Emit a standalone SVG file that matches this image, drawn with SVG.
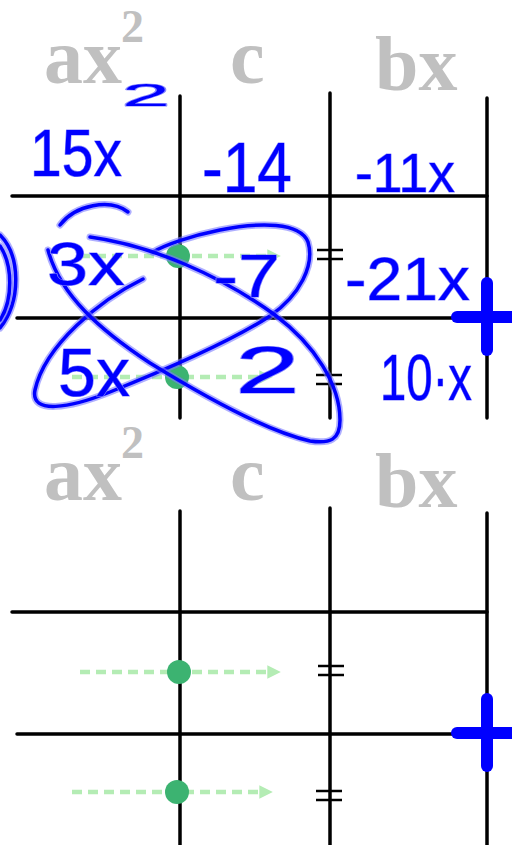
<svg xmlns="http://www.w3.org/2000/svg" xmlns:xlink="http://www.w3.org/1999/xlink" width="512" height="845" viewBox="0 0 512 845">
<style>
.lbl{font-family:"Liberation Serif",serif;font-weight:bold;fill:#c0c0c0}
.grid{stroke:#000;stroke-width:3.5;stroke-linecap:round;fill:none}
.eq{stroke:#000;stroke-width:2.5;fill:none}
.dash{stroke:#b4ecb4;stroke-width:4.5;stroke-dasharray:10 6;fill:none}
.dot{fill:#3cb371}
.plus{stroke:#0000ff;stroke-width:12;stroke-linecap:round;fill:none}
.halo{stroke:#7a7aff;stroke-width:7;stroke-opacity:0.6;fill:none;stroke-linecap:round;stroke-linejoin:round}
.ink{stroke:#0000ff;stroke-width:3.5;fill:none;stroke-linecap:round;stroke-linejoin:round}
.hw{font-family:"Liberation Sans",sans-serif;fill:#0000ff;stroke:#8a8aff;stroke-width:1.2;paint-order:stroke;stroke-linejoin:round}
</style>
<defs>
<marker id="ah" viewBox="0 0 10 10" refX="2" refY="5" markerWidth="3" markerHeight="3" orient="auto" markerUnits="strokeWidth">
<path d="M0,0 L10,5 L0,10 Z" fill="#b4ecb4"/>
</marker>
<path id="loop1" d="M143,279 C100,300 45,345 35,390 C30,415 70,408 110,392 C160,372 230,342 270,316 C300,295 315,265 308,242 C300,222 260,222 220,230 C190,236 165,245 153,252"/>
<path id="loop2" d="M90,237 C150,245 220,275 275,315 C315,345 340,385 340,420 C340,440 330,444 310,441 C270,432 210,400 150,363 C100,330 60,295 48,250"/>
<path id="arc3" d="M60,225 C75,205 110,198 128,212"/>
<path id="paren1" d="M0,235 C20,255 22,300 0,328"/>
<path id="paren2" d="M0,246 C13,265 13,300 0,320"/>
</defs>

<g id="top-panel">
<g id="top-labels">
<text class="lbl" x="44" y="83" font-size="78">ax</text>
<text class="lbl" x="121" y="42" font-size="46">2</text>
<text class="lbl" x="230" y="83" font-size="78">c</text>
<text class="lbl" x="375" y="90" font-size="78">bx</text>
</g>
<g id="top-grid">
<line class="grid" x1="180" y1="96" x2="180" y2="418"/>
<line class="grid" x1="330" y1="93" x2="330" y2="418"/>
<line class="grid" x1="487" y1="98" x2="487" y2="418"/>
<line class="grid" x1="12" y1="196" x2="487" y2="196"/>
<line class="grid" x1="17" y1="318" x2="487" y2="318"/>
</g>
<g id="top-arrows">
<line class="dash" x1="80" y1="256" x2="270" y2="256" marker-end="url(#ah)"/>
<line class="dash" x1="72" y1="377" x2="262" y2="377" marker-end="url(#ah)"/>
<circle class="dot" cx="178" cy="256" r="12"/>
<circle class="dot" cx="177" cy="377" r="12"/>
</g>
<g id="top-equals">
<line class="eq" x1="317" y1="250" x2="343" y2="250"/>
<line class="eq" x1="317" y1="259" x2="343" y2="259"/>
<line class="eq" x1="316" y1="375" x2="342" y2="375"/>
<line class="eq" x1="316" y1="384" x2="342" y2="384"/>
</g>
<g id="top-plus">
<line class="plus" x1="487" y1="283" x2="487" y2="350"/>
<line class="plus" x1="457" y1="317" x2="515" y2="317"/>
</g>
<g id="handwriting">
<use xlink:href="#loop1" class="halo"/><use xlink:href="#loop1" class="ink"/>
<use xlink:href="#loop2" class="halo"/><use xlink:href="#loop2" class="ink"/>
<use xlink:href="#arc3" class="halo"/><use xlink:href="#arc3" class="ink"/>
<use xlink:href="#paren1" class="halo"/><use xlink:href="#paren1" class="ink"/>
<use xlink:href="#paren2" class="halo"/><use xlink:href="#paren2" class="ink"/>
<text class="hw" x="30" y="176" font-size="66" textLength="92" lengthAdjust="spacingAndGlyphs">15x</text>
<text class="hw" x="122" y="106" font-size="32" textLength="48" lengthAdjust="spacingAndGlyphs">2</text>
<text class="hw" x="202" y="192" font-size="70" textLength="90" lengthAdjust="spacingAndGlyphs">-14</text>
<text class="hw" x="355" y="192" font-size="56" textLength="100" lengthAdjust="spacingAndGlyphs">-11x</text>
<text class="hw" x="47" y="285" font-size="62" textLength="78" lengthAdjust="spacingAndGlyphs">3x</text>
<text class="hw" x="213" y="297" font-size="62" textLength="67" lengthAdjust="spacingAndGlyphs">-7</text>
<text class="hw" x="345" y="300" font-size="62" textLength="125" lengthAdjust="spacingAndGlyphs">-21x</text>
<text class="hw" x="58" y="396" font-size="68" textLength="72" lengthAdjust="spacingAndGlyphs">5x</text>
<text class="hw" x="235" y="393" font-size="66" textLength="65" lengthAdjust="spacingAndGlyphs">2</text>
<text class="hw" x="380" y="400" font-size="64" textLength="92" lengthAdjust="spacingAndGlyphs">10·x</text>
</g>
</g>

<g id="bottom-panel">
<g id="bottom-labels">
<text class="lbl" x="44" y="500" font-size="78">ax</text>
<text class="lbl" x="121" y="458" font-size="46">2</text>
<text class="lbl" x="230" y="500" font-size="78">c</text>
<text class="lbl" x="375" y="507" font-size="78">bx</text>
</g>
<g id="bottom-grid">
<line class="grid" x1="180" y1="511" x2="180" y2="845"/>
<line class="grid" x1="330" y1="508" x2="330" y2="848"/>
<line class="grid" x1="487" y1="513" x2="487" y2="848"/>
<line class="grid" x1="12" y1="612" x2="487" y2="612"/>
<line class="grid" x1="17" y1="734" x2="487" y2="734"/>
</g>
<g id="bottom-arrows">
<line class="dash" x1="80" y1="672" x2="270" y2="672" marker-end="url(#ah)"/>
<line class="dash" x1="72" y1="792" x2="262" y2="792" marker-end="url(#ah)"/>
<circle class="dot" cx="179" cy="672" r="12"/>
<circle class="dot" cx="177" cy="792" r="12"/>
</g>
<g id="bottom-equals">
<line class="eq" x1="318" y1="666" x2="344" y2="666"/>
<line class="eq" x1="318" y1="675" x2="344" y2="675"/>
<line class="eq" x1="316" y1="791" x2="342" y2="791"/>
<line class="eq" x1="316" y1="800" x2="342" y2="800"/>
</g>
<g id="bottom-plus">
<line class="plus" x1="487" y1="699" x2="487" y2="766"/>
<line class="plus" x1="457" y1="733" x2="515" y2="733"/>
</g>
</g>
</svg>
